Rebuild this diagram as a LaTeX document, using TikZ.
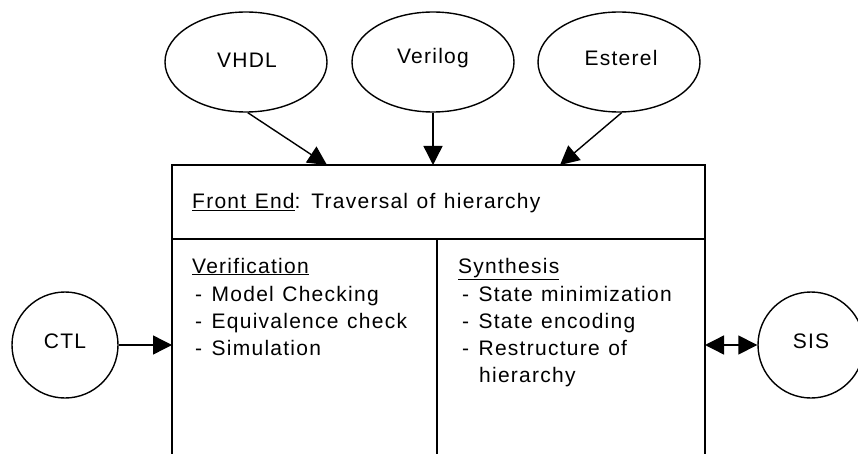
\documentclass[tikz,border=0pt]{standalone}
\usepackage{fontspec}
\setmainfont[LetterSpace=6,WordSpace=1.2]{Liberation Sans}
\usetikzlibrary{arrows.meta,shapes.geometric}
\begin{document}
\begin{tikzpicture}[x=1pt,y=-1pt,
  every node/.style={font=\fontsize{21}{24}\selectfont},
  lbl/.style={inner sep=0pt,anchor=base west},
  ln/.style={line width=1.4pt},
  tip/.tip={Triangle[length=19pt,width=19pt]},
  arr/.style={ln,-tip},
  ell/.style={draw,ln,ellipse,minimum width=162pt,minimum height=100pt,inner sep=0pt},
  circ/.style={draw,ln,circle,minimum size=106pt,inner sep=0pt}]
\useasboundingbox (0,0) rectangle (858,454);
% outer box
\coordinate (tl) at (172,165);
\coordinate (tr) at (705,165);
\coordinate (ml) at (172,239);
\coordinate (mr) at (705,239);
\coordinate (bl) at (172,460);
\coordinate (br) at (705,460);
\coordinate (dt) at (437,239);
\coordinate (db) at (437,460);
\draw[ln] (bl) -- (tl) -- (tr) -- (br);
\draw[ln] (ml) -- (mr);
\draw[ln] (dt) -- (db);
% input ellipses
\node[ell] (vhdl) at (246,62) {};
\node[ell] (verilog) at (433,62) {};
\node[ell] (esterel) at (619,62) {};
\node[inner sep=0pt] at (247,60) {VHDL};
\node[inner sep=0pt] at (433,58) {Verilog};
\node[inner sep=0pt] at (621,58) {Esterel};
\coordinate (a1) at (327,165);
\coordinate (a2) at (433,165);
\coordinate (a3) at (560,165);
\draw[arr] (vhdl.-88) -- (a1);
\draw[arr] (verilog.south) -- (a2);
\draw[arr] (esterel.-87) -- (a3);
% circles
\node[circ] (ctl) at (65,345) {};
\node[inner sep=0pt] at (65,341) {CTL};
\node[circ] (sis) at (811,345) {};
\node[inner sep=0pt] at (811,341) {SIS};
\coordinate (cin) at (172,345);
\coordinate (sout) at (705,345);
\draw[arr] (ctl.east) -- (cin);
\draw[ln,tip-tip] (sout) -- (sis.west);
% texts
\node[lbl] (fe) at (192,209) {\underline{Front End}: Traversal of hierarchy};
\node[lbl] (ver) at (192,273) {\underline{Verification}};
\node[lbl] (v1) at (195,301) {-\hspace{0.45em}Model Checking};
\node[lbl] (v2) at (195,328) {-\hspace{0.45em}Equivalence check};
\node[lbl] (v3) at (195,355) {-\hspace{0.45em}Simulation};
\node[lbl] (syn) at (458,273) {\underline{Synthesis}};
\node[lbl] (s1) at (462,301) {-\hspace{0.45em}State minimization};
\node[lbl] (s2) at (462,328) {-\hspace{0.45em}State encoding};
\node[lbl] (s3) at (462,355) {-\hspace{0.45em}Restructure of};
\node[lbl] (s4) at (479,382) {hierarchy};
\end{tikzpicture}
\end{document}
